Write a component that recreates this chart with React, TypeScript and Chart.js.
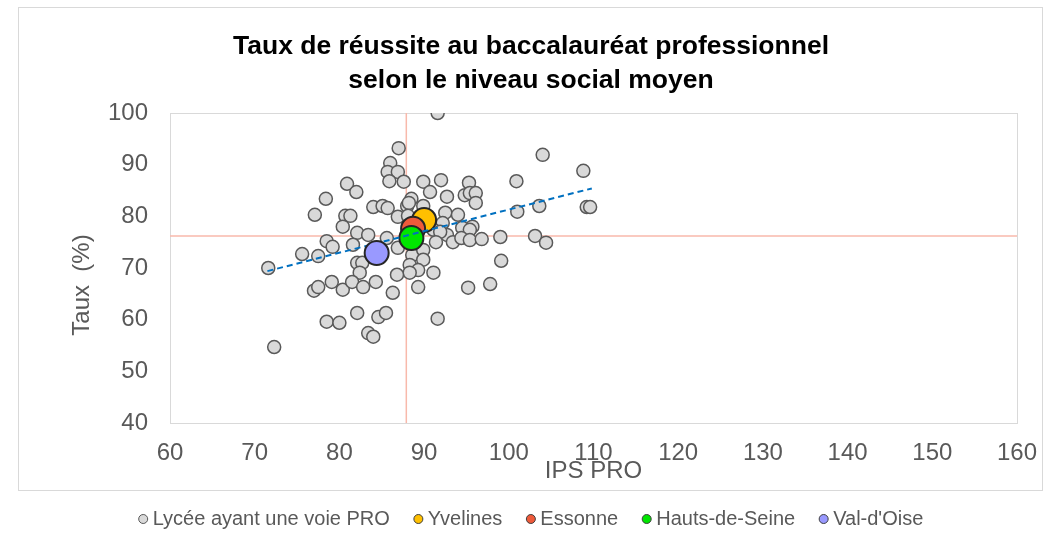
import { useEffect, useRef } from "react";
import { Chart, registerables } from "chart.js";

Chart.register(...registerables);

// ---- Data ----
const ipsPro = [
  91.6, 87.0, 86.0, 85.7, 86.9, 85.9, 87.6, 89.9, 92.0, 80.9,
  82.0, 90.7, 92.7, 78.4, 88.5, 84.0, 85.1, 85.7, 88.0, 89.9,
  88.2, 77.1, 80.7, 81.3, 86.9, 80.4, 82.1, 83.4, 104.0, 108.8,
  100.9, 95.3, 94.8, 95.4, 96.1, 96.1, 103.6, 109.2, 109.6, 101.0,
  92.5, 94.0, 95.7, 92.2, 88.1, 91.1, 92.7, 94.5, 95.4, 91.9,
  91.4, 93.4, 94.4, 95.4, 96.8, 99.0, 103.1, 104.4, 99.1, 97.8,
  95.2, 91.6, 85.6, 86.9, 88.6, 89.9, 89.9, 88.3, 89.3, 88.3,
  91.1, 86.8, 89.3, 86.3, 71.6, 72.3, 75.6, 77.5, 78.5, 79.2,
  81.6, 82.1, 82.7, 82.4, 77.0, 77.5, 79.1, 80.4, 81.5, 82.8,
  84.3, 82.1, 78.5, 80.0, 84.6, 85.5, 83.4, 84.0,
];
const tauxReussite = [
  100.0, 93.2, 90.3, 88.6, 88.6, 86.8, 86.7, 86.7, 87.0, 86.3,
  84.7, 84.7, 83.8, 83.4, 83.4, 81.8, 82.0, 81.6, 82.0, 82.0,
  82.6, 80.3, 80.1, 80.1, 79.9, 78.0, 76.8, 76.4, 91.9, 88.8,
  86.8, 86.5, 84.1, 84.5, 84.5, 82.6, 82.0, 81.8, 81.8, 80.9,
  80.7, 80.3, 78.0, 78.7, 80.1, 77.4, 76.4, 77.8, 77.4, 77.0,
  75.0, 75.0, 75.8, 75.4, 75.6, 76.0, 76.2, 74.9, 71.4, 66.9,
  66.2, 60.2, 75.8, 73.9, 72.5, 73.5, 71.6, 70.6, 69.6, 69.1,
  69.1, 68.7, 66.3, 65.2, 70.0, 54.7, 72.7, 72.3, 75.2, 74.1,
  74.5, 71.0, 71.0, 69.1, 65.6, 66.3, 67.3, 65.8, 67.3, 66.3,
  67.3, 61.3, 59.6, 59.4, 60.5, 61.3, 57.4, 56.7,
];

const seriesLabel = "Lycée ayant une voie PRO";
const deptNames = ["Yvelines", "Essonne", "Hauts-de-Seine", "Val-d'Oise"];
const deptIps = [90.0, 88.7, 88.5, 84.4];
const deptTaux = [79.3, 77.6, 75.8, 72.9];

const trendIps = [71.5, 109.8];
const trendTaux = [69.4, 85.4];

const meanIps = 87.9;
const meanTaux = 76.2;

const xMin = 60;
const xMax = 160;
const yMin = 40;
const yMax = 100;
const tickStep = 10;

const titleLines = ["Taux de réussite au baccalauréat professionnel", "selon le niveau social moyen"];
const xTitle = "IPS PRO";
const yTitle = "Taux  (%)";

// ---- Styles ----
const deptColors = ["#ffc000", "#ee5a3a", "#00e600", "#9999ff"];
const deptOrder = [9, 8, 7, 5];
const FONT = "'Liberation Sans', Arial, sans-serif";
const TEXT = "#595959";

const decorPlugin = {
  id: "decor",
  beforeDraw(chart: any) {
    const ctx = chart.ctx;
    ctx.save();
    ctx.fillStyle = "#ffffff";
    ctx.fillRect(0, 0, chart.width, chart.height);
    ctx.strokeStyle = "#d9d9d9";
    ctx.lineWidth = 1;
    ctx.strokeRect(18.5, 7.5, 1024, 483);
    ctx.restore();
  },
  beforeDatasetsDraw(chart: any) {
    const { ctx, chartArea: a } = chart;
    ctx.save();
    ctx.strokeStyle = "#d9d9d9";
    ctx.lineWidth = 1;
    ctx.strokeRect(Math.round(a.left) + 0.5, Math.round(a.top) + 0.5, Math.round(a.right - a.left), Math.round(a.bottom - a.top));
    ctx.restore();
  },
  afterDraw(chart: any) {
    const { ctx, chartArea: a } = chart;
    ctx.save();
    // Title
    ctx.fillStyle = "#000000";
    ctx.font = `bold 26.5px ${FONT}`;
    ctx.textAlign = "center";
    ctx.textBaseline = "middle";
    ctx.fillText(titleLines[0], 531, 47);
    ctx.fillText(titleLines[1], 531, 81);
    // Axis titles
    ctx.fillStyle = TEXT;
    ctx.font = `24px ${FONT}`;
    ctx.fillText(xTitle, (a.left + a.right) / 2, 471);
    ctx.save();
    ctx.translate(82, 285);
    ctx.rotate(-Math.PI / 2);
    ctx.fillText(yTitle, 0, 0);
    ctx.restore();
    // Legend
    const items = [
      { label: seriesLabel, fill: "#d9d9d9", stroke: "#595959" },
      ...deptNames.map((n, i) => ({ label: n, fill: deptColors[i], stroke: "#404040" })),
    ];
    ctx.font = `20px ${FONT}`;
    ctx.textAlign = "left";
    const r = 4.5;
    const markerToText = 5;
    const gap = 24;
    const widths = items.map((it) => ctx.measureText(it.label).width);
    let total = 0;
    widths.forEach((w, i) => {
      total += 2 * r + markerToText + w + (i < widths.length - 1 ? gap : 0);
    });
    let x = 531 - total / 2;
    const y = 519;
    items.forEach((it, i) => {
      ctx.beginPath();
      ctx.arc(x + r, y, r, 0, Math.PI * 2);
      ctx.fillStyle = it.fill;
      ctx.fill();
      ctx.lineWidth = 1;
      ctx.strokeStyle = it.stroke;
      ctx.stroke();
      x += 2 * r + markerToText;
      ctx.fillStyle = TEXT;
      ctx.fillText(it.label, x, y);
      x += widths[i] + gap;
    });
    ctx.restore();
  },
};

export default function App() {
  const ref = useRef<HTMLCanvasElement | null>(null);

  useEffect(() => {
    if (!ref.current) return;
    const datasets: any[] = [
      {
        type: "line",
        label: "meanX",
        data: [
          { x: meanIps, y: yMin },
          { x: meanIps, y: yMax },
        ],
        borderColor: "#f8b9ab",
        borderWidth: 1.5,
        pointRadius: 0,
        order: 20,
      },
      {
        type: "line",
        label: "meanY",
        data: [
          { x: xMin, y: meanTaux },
          { x: xMax, y: meanTaux },
        ],
        borderColor: "#f8b9ab",
        borderWidth: 1.5,
        pointRadius: 0,
        order: 20,
      },
      {
        type: "scatter",
        label: seriesLabel,
        data: ipsPro.map((v, i) => ({ x: v, y: tauxReussite[i] })),
        backgroundColor: "#d9d9d9",
        borderColor: "#595959",
        borderWidth: 1.5,
        pointRadius: 6.5,
        order: 10,
      },
      {
        type: "line",
        label: "trend",
        data: trendIps.map((v, i) => ({ x: v, y: trendTaux[i] })),
        borderColor: "#0070c0",
        borderWidth: 2,
        borderDash: [6, 4],
        pointRadius: 0,
        order: 6,
      },
      ...deptNames.map((n, i) => ({
        type: "scatter",
        label: n,
        data: [{ x: deptIps[i], y: deptTaux[i] }],
        backgroundColor: deptColors[i],
        borderColor: "#262626",
        borderWidth: 2,
        pointRadius: 12,
        order: deptOrder[i],
      })),
    ];

    const chart = new Chart(ref.current, {
      type: "scatter",
      data: { datasets },
      options: {
        responsive: false,
        animation: false,
        devicePixelRatio: 1,
        layout: { padding: { left: 0, right: 34, top: 113, bottom: 0 } },
        scales: {
          x: {
            type: "linear",
            min: xMin,
            max: xMax,
            grid: { display: false },
            border: { display: false },
            ticks: { stepSize: tickStep, color: TEXT, font: { size: 24, family: FONT }, padding: 8 },
            afterFit: (s: any) => {
              s.height = 118;
            },
          },
          y: {
            type: "linear",
            min: yMin,
            max: yMax,
            grid: { display: false },
            border: { display: false },
            ticks: { stepSize: tickStep, color: TEXT, font: { size: 24, family: FONT }, padding: 14 },
            afterFit: (s: any) => {
              s.width = 170;
            },
          },
        },
        plugins: {
          legend: { display: false },
          title: { display: false },
          tooltip: { enabled: false },
        },
      } as any,
      plugins: [decorPlugin],
    });
    return () => chart.destroy();
  }, []);

  return (
    <div style={{ position: "fixed", left: 0, top: 0, width: 1051, height: 541, background: "#fff" }}>
      <canvas ref={ref} width={1051} height={541} style={{ width: 1051, height: 541, display: "block" }} />
    </div>
  );
}
